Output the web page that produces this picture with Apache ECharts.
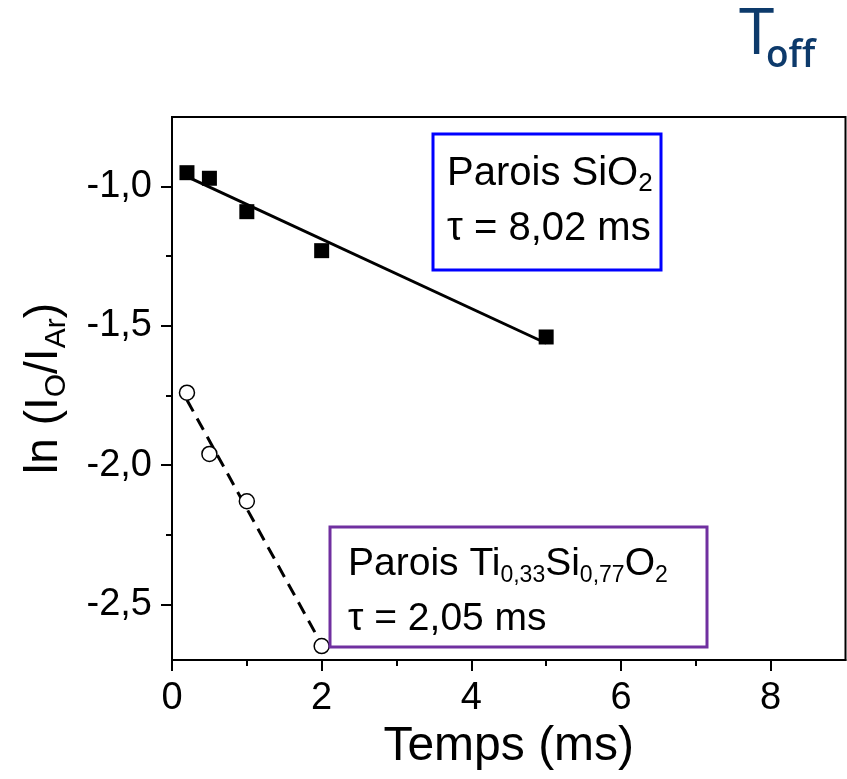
<!DOCTYPE html>
<html>
<head>
<meta charset="utf-8">
<script src="https://cdn.jsdelivr.net/npm/echarts@6/dist/echarts.min.js"></script>
<style>
  html, body { margin: 0; padding: 0; background: #fff; }
  #chart { width: 847px; height: 779px; }
</style>
</head>
<body>
<div id="chart"></div>
<script>
// ln(I_O / I_Ar) decay after plasma switch-off, for two wall coatings
const timeSiO2 = [0.2, 0.5, 1, 2, 5];
const lnSiO2 = [-0.95, -0.97, -1.09, -1.23, -1.54];
const tauSiO2 = 8.02;

const timeTiSi = [0.2, 0.5, 1, 2];
const lnTiSi = [-1.74, -1.96, -2.13, -2.65];
const tauTiSi = 2.05;

const xTicks = [0, 2, 4, 6, 8];
const xMinorTicks = [1, 3, 5, 7];
const yTicks = [-2.5, -2.0, -1.5, -1.0];
const yMinorTicks = [-2.25, -1.75, -1.25];

const X_RANGE = [0, 9];
const Y_RANGE = [-2.7, -0.75];

const FONT = '"Liberation Sans", Arial, sans-serif';

// Straight line of slope -1/tau through the centroid of the points
function decayLine(xs, ys, tau) {
  const slope = -1 / tau;
  const mx = xs.reduce((a, b) => a + b, 0) / xs.length;
  const my = ys.reduce((a, b) => a + b, 0) / ys.length;
  const b = my - slope * mx;
  const x0 = xs[0], x1 = xs[xs.length - 1];
  return [[x0, b + slope * x0], [x1, b + slope * x1]];
}

const zip = (xs, ys) => xs.map((x, i) => [x, ys[i]]);
const comma = v => v.toFixed(1).replace('.', ',');

const tickStyle = { color: '#000', width: 2 };
const gridBox = { left: 172, right: 1.5, top: 117, bottom: 119, containLabel: false, outerBoundsMode: 'none' };

const chart = echarts.init(document.getElementById('chart'), null, { renderer: 'canvas' });

chart.setOption({
  backgroundColor: '#fff',
  animation: false,
  grid: [
    Object.assign({ show: true, borderColor: '#000', borderWidth: 2 }, gridBox),
    // second coordinate frame on the same box, only carries the minor ticks
    Object.assign({ show: false }, gridBox)
  ],
  xAxis: [
    {
      gridIndex: 0, type: 'value', min: X_RANGE[0], max: X_RANGE[1], position: 'bottom',
      axisLine: { show: true, onZero: false, lineStyle: { color: '#000', width: 2 } },
      axisTick: { show: true, inside: false, customValues: xTicks, length: 11, lineStyle: tickStyle },
      axisLabel: { customValues: xTicks, fontSize: 38, color: '#000', fontFamily: FONT, margin: 20 },
      splitLine: { show: false },
      name: 'Temps (ms)', nameLocation: 'middle', nameGap: 63,
      nameTextStyle: { fontSize: 48, color: '#000', fontFamily: FONT }
    },
    {
      gridIndex: 1, type: 'value', min: X_RANGE[0], max: X_RANGE[1], position: 'bottom',
      axisLine: { show: false, onZero: false },
      axisTick: { show: true, inside: false, customValues: xMinorTicks, length: 6, lineStyle: tickStyle },
      axisLabel: { show: false },
      splitLine: { show: false }
    }
  ],
  yAxis: [
    {
      gridIndex: 0, type: 'value', min: Y_RANGE[0], max: Y_RANGE[1], position: 'left',
      axisLine: { show: true, onZero: false, lineStyle: { color: '#000', width: 2 } },
      axisTick: { show: true, inside: false, customValues: yTicks, length: 11, lineStyle: tickStyle },
      axisLabel: { customValues: yTicks, formatter: comma, fontSize: 38, color: '#000', fontFamily: FONT, margin: 20 },
      splitLine: { show: false },
      name: '{a|ln (I}{s|O}{a|/I}{s|Ar}{a|)}',
      nameLocation: 'middle', nameRotate: 90, nameGap: 100,
      nameTextStyle: {
        color: '#000', fontFamily: FONT,
        rich: {
          a: { fontSize: 46, lineHeight: 56, fontFamily: FONT, color: '#000' },
          s: { fontSize: 30, lineHeight: 30, verticalAlign: 'bottom', fontFamily: FONT, color: '#000' }
        }
      }
    },
    {
      gridIndex: 1, type: 'value', min: Y_RANGE[0], max: Y_RANGE[1], position: 'left',
      axisLine: { show: false, onZero: false },
      axisTick: { show: true, inside: false, customValues: yMinorTicks, length: 6, lineStyle: tickStyle },
      axisLabel: { show: false },
      splitLine: { show: false }
    }
  ],
  series: [
    {
      name: 'fit SiO2', type: 'line', data: decayLine(timeSiO2, lnSiO2, tauSiO2),
      showSymbol: false, symbol: 'none', silent: true, z: 2,
      lineStyle: { color: '#000', width: 3 }
    },
    {
      name: 'fit TiSiO2', type: 'line', data: decayLine(timeTiSi, lnTiSi, tauTiSi),
      showSymbol: false, symbol: 'none', silent: true, z: 2,
      lineStyle: { color: '#000', width: 3, type: [13, 8] }
    },
    {
      name: 'SiO2', type: 'scatter', data: zip(timeSiO2, lnSiO2),
      symbol: 'rect', symbolSize: 15, z: 3,
      itemStyle: { color: '#000', opacity: 1 }
    },
    {
      name: 'TiSiO2', type: 'scatter', data: zip(timeTiSi, lnTiSi),
      symbol: 'circle', symbolSize: 15, z: 3,
      itemStyle: { color: '#fff', borderColor: '#000', borderWidth: 1.5, opacity: 1 }
    }
  ],
  graphic: [
    // Title
    {
      type: 'text', left: 739, top: 4, z: 10,
      style: { text: 'T', font: '64px "Open Sans", sans-serif', fill: '#0d3a6b' }
    },
    {
      type: 'text', left: 766, top: 38, z: 10,
      style: { text: 'off', font: '600 37px "Open Sans", sans-serif', fill: '#0d3a6b' }
    },
    // SiO2 box
    {
      type: 'rect', z: 10,
      shape: { x: 433, y: 134, width: 228, height: 136 },
      style: { fill: '#fff', stroke: '#0000ff', lineWidth: 3 }
    },
    {
      type: 'text', x: 447, y: 151, z: 11,
      style: {
        text: '{a|Parois SiO}{s|2}',
        rich: {
          a: { fontSize: 40, lineHeight: 46, fontFamily: FONT, fill: '#000' },
          s: { fontSize: 26, lineHeight: 22, verticalAlign: 'bottom', fontFamily: FONT, fill: '#000' }
        }
      }
    },
    {
      type: 'text', x: 447, y: 206, z: 11,
      style: {
        text: '{a|τ = 8,02 ms}',
        rich: { a: { fontSize: 40, lineHeight: 46, fontFamily: FONT, fill: '#000' } }
      }
    },
    // Ti0,33Si0,77O2 box
    {
      type: 'rect', z: 10,
      shape: { x: 330, y: 527, width: 377, height: 120 },
      style: { fill: '#fff', stroke: '#7030a0', lineWidth: 3 }
    },
    {
      type: 'text', x: 348, y: 541, z: 11,
      style: {
        text: '{a|Parois Ti}{s|0,33}{a|Si}{s|0,77}{a|O}{s|2}',
        rich: {
          a: { fontSize: 39, lineHeight: 46, fontFamily: FONT, fill: '#000' },
          s: { fontSize: 23, lineHeight: 22, verticalAlign: 'bottom', fontFamily: FONT, fill: '#000' }
        }
      }
    },
    {
      type: 'text', x: 348, y: 596, z: 11,
      style: {
        text: '{a|τ = 2,05 ms}',
        rich: { a: { fontSize: 39, lineHeight: 46, fontFamily: FONT, fill: '#000' } }
      }
    }
  ]
});
</script>
</body>
</html>
